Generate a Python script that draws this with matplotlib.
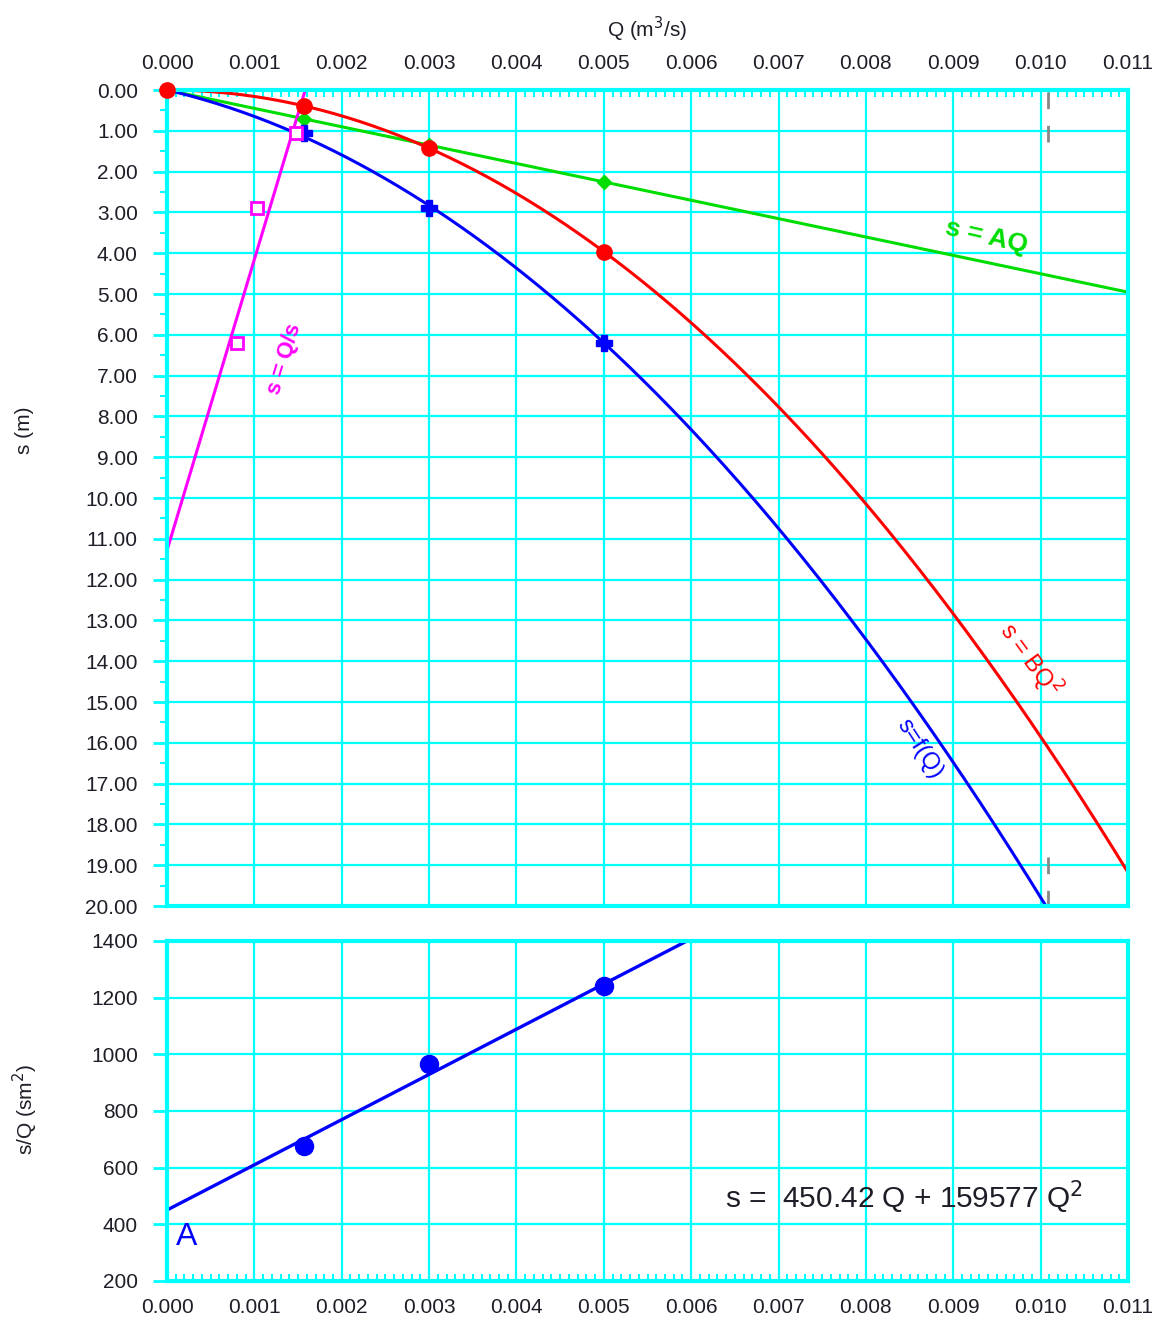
import numpy as np
import matplotlib.pyplot as plt
from matplotlib.ticker import MultipleLocator

plt.rcParams['font.family'] = ['Liberation Sans', 'DejaVu Sans']

# pumping test data
Q = [0.00157, 0.003, 0.005]          # m3/s
s_meas = [1.06, 2.90, 6.20]          # measured drawdown (blue)
s_lin = [0.71, 1.35, 2.25]           # s = AQ (green)
s_quad = [0.39, 1.43, 3.98]          # s = BQ^2 (red)

# coefficients shown on the chart
A = 450.42
B = 159577
# coefficients of the curves as they are drawn in the top panel
B_red = 158500
fQ_a = 500
fQ_b = 147900
Q_max = 0.01008

x_ticks = [0.000, 0.001, 0.002, 0.003, 0.004, 0.005, 0.006, 0.007, 0.008, 0.009, 0.010, 0.011]
s_ticks = list(range(0, 21))
sq_ticks = [200, 400, 600, 800, 1000, 1200, 1400]

CYAN = '#00ffff'
TXT = '#1e1e28'

fig = plt.figure(figsize=(11.6, 13.2), dpi=100)
W, H = 1160, 1320
ax1 = fig.add_axes([167 / W, 1 - 906 / H, 961 / W, 816 / H])
ax2 = fig.add_axes([167 / W, 1 - 1281 / H, 961 / W, 340 / H])


def style(ax):
    ax.set_xlim(0, 0.011)
    ax.set_xticks(x_ticks)
    ax.set_xticklabels([f'{v:.3f}' for v in x_ticks])
    ax.xaxis.set_minor_locator(MultipleLocator(0.0001))
    ax.grid(True, which='major', color=CYAN, lw=1.6)
    ax.set_axisbelow(True)
    for sp in ax.spines.values():
        sp.set_color(CYAN)
        sp.set_linewidth(3)
    ax.tick_params(axis='x', which='major', length=0, pad=12, labelsize=15, labelcolor=TXT)
    ax.tick_params(axis='x', which='minor', direction='in', length=5, width=1.5, color=CYAN)
    ax.tick_params(axis='y', which='major', direction='out', length=10, width=2,
                   color=CYAN, pad=11, labelsize=15, labelcolor=TXT)
    ax.tick_params(axis='y', which='minor', direction='out', length=5, width=1.5, color=CYAN)


# --- top panel: drawdown vs discharge ---
style(ax1)
ax1.set_ylim(20, 0)
ax1.set_yticks(s_ticks)
ax1.set_yticklabels([f'{v:.2f}' for v in s_ticks])
ax1.yaxis.set_minor_locator(MultipleLocator(0.5))
ax1.xaxis.tick_top()
ax1.xaxis.set_label_position('top')
ax1.set_xlabel('Q (m$^3$/s)', fontsize=15, color=TXT, labelpad=12)

qq = np.linspace(0, 0.011, 300)
ax1.plot(qq, A * qq, color='#00dd00', lw=2.2)
ax1.plot(qq, B_red * qq ** 2, color='#ff0000', lw=2.2)
ax1.plot(qq, fQ_a * qq + fQ_b * qq ** 2, color='#0000ff', lw=2.2)

# specific capacity line: s against Q/s
spec = np.array(Q) / np.array(s_meas)
k, c = np.polyfit(spec, s_meas, 1)
xs = np.linspace(0, -c / k, 50)
ax1.plot(xs, k * xs + c, color='#ff00ff', lw=2.2)

ax1.plot(Q, s_lin, 'D', color='#00dd00', ms=7, zorder=4)
ax1.plot([0] + Q, [0] + s_quad, 'o', color='#ff0000', ms=11, zorder=4, clip_on=False)
ax1.plot(Q, s_meas, 'P', color='#0000ff', ms=11, zorder=5)
ax1.plot(spec, s_meas, 's', mfc='white', mec='#ff00ff', mew=2, ms=8, zorder=5)

# limit markers
ax1.plot([Q_max, Q_max], [0.05, 1.4], color='#888888', lw=2, ls=(0, (6, 6)))
ax1.plot([Q_max, Q_max], [18.8, 20], color='#888888', lw=2, ls=(0, (6, 6)))

ax1.text(0.00938, 3.6, 's = AQ', color='#00dd00', fontsize=19, fontweight='bold',
         rotation=-13, ha='center', va='center')
ax1.text(0.00988, 13.95, 's = BQ$^2$', color='#ff0000', fontsize=17,
         rotation=-54, ha='center', va='center')
ax1.text(0.00862, 16.15, 's=f(Q)', color='#0000ff', fontsize=17,
         rotation=-57, ha='center', va='center')
ax1.text(0.00135, 6.6, 's = Q/s', color='#ff00ff', fontsize=16, fontweight='bold',
         rotation=73, ha='center', va='center')

# --- bottom panel: s/Q vs Q ---
style(ax2)
ax2.set_ylim(200, 1400)
ax2.set_yticks(sq_ticks)
ax2.plot(qq, A + B * qq, color='#0000ff', lw=2.4)
ax2.plot(Q, np.array(s_meas) / np.array(Q), 'o', color='#0000ff', ms=13, zorder=4)
ax2.text(0.00022, 355, 'A', color='#0000ff', fontsize=23, ha='center', va='center')
ax2.text(0.00844, 496, f's =  {A} Q + {B} Q$^2$', color=TXT, fontsize=21.5,
         ha='center', va='center')

fig.text(25 / W, 1 - 430 / H, 's (m)', rotation=90, fontsize=15, color=TXT,
         ha='center', va='center')
fig.text(25 / W, 1 - 1110 / H, 's/Q (sm$^2$)', rotation=90, fontsize=15, color=TXT,
         ha='center', va='center')

fig.savefig('out.png', dpi=100, facecolor='white')
